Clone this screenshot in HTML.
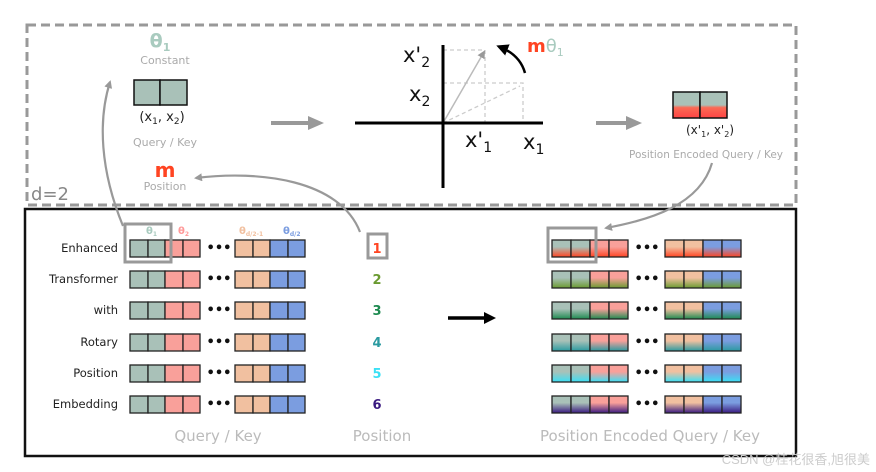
<!DOCTYPE html>
<html><head><meta charset="utf-8"><style>body{margin:0;background:#fff}svg{display:block}text{font-family:"DejaVu Sans","Liberation Sans",sans-serif}</style></head><body>
<svg width="876" height="472" viewBox="0 0 876 472" xmlns="http://www.w3.org/2000/svg">
<defs>
<marker id="ga" markerWidth="8" markerHeight="8" refX="6" refY="4" orient="auto" markerUnits="userSpaceOnUse"><path d="M0,0L8,4L0,8z" fill="#999"/></marker>
<marker id="gb" markerWidth="16" markerHeight="14" refX="10" refY="7" orient="auto" markerUnits="userSpaceOnUse"><path d="M0,0L16,7L0,14z" fill="#999"/></marker>
<marker id="ba" markerWidth="12" markerHeight="12" refX="8" refY="6" orient="auto" markerUnits="userSpaceOnUse"><path d="M0,0L12,6L0,12z" fill="#000"/></marker>
<linearGradient id="gr" x1="0" y1="0" x2="0" y2="1"><stop offset="0.5" stop-color="#a9c1b8"/><stop offset="0.6" stop-color="#fa6a55"/><stop offset="1" stop-color="#f44"/></linearGradient>
</defs>
<rect x="27" y="25" width="769" height="180" fill="none" stroke="#999" stroke-width="3" stroke-dasharray="9,5"/>
<rect x="25" y="209" width="771" height="247" fill="none" stroke="#111" stroke-width="2.5"/>
<text x="50" y="200" font-size="18" fill="#888" text-anchor="middle">d=2</text>
<text x="160" y="47" font-size="19" font-weight="bold" fill="#a9cbbf" text-anchor="middle">θ<tspan font-size="11" dy="4">1</tspan></text>
<text x="165" y="64" font-size="11" fill="#aaa" text-anchor="middle">Constant</text>
<rect x="134" y="80" width="26" height="25" fill="#a9c1b8" stroke="#111" stroke-width="1.5"/><rect x="160" y="80" width="27" height="25" fill="#a9c1b8" stroke="#111" stroke-width="1.5"/>
<text x="162" y="121" font-size="13" fill="#222" text-anchor="middle">(x<tspan font-size="9" dy="3">1</tspan><tspan dy="-3">, x</tspan><tspan font-size="9" dy="3">2</tspan><tspan dy="-3">)</tspan></text>
<text x="165" y="146" font-size="11" fill="#aaa" text-anchor="middle">Query / Key</text>
<text x="165" y="177" font-size="20" font-weight="bold" fill="#f42" text-anchor="middle">m</text>
<text x="165" y="190" font-size="11" fill="#aaa" text-anchor="middle">Position</text>
<line x1="271" y1="123" x2="318" y2="123" stroke="#999" stroke-width="4" marker-end="url(#gb)"/>
<line x1="596" y1="123" x2="636" y2="123" stroke="#999" stroke-width="4" marker-end="url(#gb)"/>
<g stroke="#ccc" stroke-width="1.3" stroke-dasharray="4,3" fill="none"><path d="M443,50H485V123M443,83H523V123M443,123L520,86"/></g>
<line x1="443" y1="123" x2="484" y2="52" stroke="#bbb" stroke-width="1.5" marker-end="url(#ga)"/>
<line x1="355" y1="123" x2="543" y2="123" stroke="#000" stroke-width="3"/>
<line x1="443" y1="45" x2="443" y2="188" stroke="#000" stroke-width="3"/>
<path d="M525,73 Q520,55 500,47" fill="none" stroke="#000" stroke-width="2.5" marker-end="url(#ba)"/>
<text x="527" y="52" font-size="18" font-weight="bold" fill="#f42">m<tspan fill="#a9cbbf" font-weight="normal">θ<tspan font-size="11" dy="4">1</tspan></tspan></text>
<g font-size="21" fill="#111"><text x="403" y="62">x'<tspan font-size="14" dy="5">2</tspan></text><text x="409" y="101">x<tspan font-size="14" dy="5">2</tspan></text><text x="465" y="147">x'<tspan font-size="14" dy="5">1</tspan></text><text x="523" y="149">x<tspan font-size="14" dy="5">1</tspan></text></g>
<rect x="673" y="92" width="27" height="26" fill="url(#gr)" stroke="#111" stroke-width="1.5"/><rect x="700" y="92" width="27" height="26" fill="url(#gr)" stroke="#111" stroke-width="1.5"/>
<text x="710" y="134" font-size="12" fill="#222" text-anchor="middle">(x'<tspan font-size="8" dy="3">1</tspan><tspan dy="-3">, x'</tspan><tspan font-size="8" dy="3">2</tspan><tspan dy="-3">)</tspan></text>
<text x="706" y="158" font-size="10.5" fill="#aaa" text-anchor="middle">Position Encoded Query / Key</text>
<path d="M123,226 C100,170 98,120 110,82" fill="none" stroke="#999" stroke-width="2.2" marker-end="url(#ga)"/>
<path d="M360,232 C340,180 260,170 196,178" fill="none" stroke="#999" stroke-width="2.2" marker-end="url(#ga)"/>
<path d="M712,163 C700,205 650,220 606,228" fill="none" stroke="#999" stroke-width="2.2" marker-end="url(#ga)"/>
<g font-size="10" font-weight="bold"><text x="146" y="234" fill="#a9cbbf">θ<tspan font-size="6" dy="2">1</tspan></text><text x="178" y="234" fill="#f99">θ<tspan font-size="6" dy="2">2</tspan></text><text x="239" y="234" fill="#f1c0a0">θ<tspan font-size="6" dy="2">d/2-1</tspan></text><text x="283" y="234" fill="#7b9de0">θ<tspan font-size="6" dy="2">d/2</tspan></text></g>
<g id="rows"></g>
<rect x="125" y="224" width="46" height="38" fill="none" stroke="#999" stroke-width="3"/>
<rect x="548" y="228" width="48" height="34" fill="none" stroke="#999" stroke-width="3"/>
<rect x="368" y="234" width="19" height="24" fill="none" stroke="#999" stroke-width="3"/>
<line x1="448" y1="318" x2="492" y2="318" stroke="#000" stroke-width="3.5" marker-end="url(#ba)"/>
<text x="218" y="441" font-size="15" fill="#bbb" text-anchor="middle">Query / Key</text>
<text x="382" y="441" font-size="15" fill="#bbb" text-anchor="middle">Position</text>
<text x="650" y="441" font-size="15" fill="#bbb" text-anchor="middle">Position Encoded Query / Key</text>
<text x="870" y="464" font-size="13" fill="#ccc" text-anchor="end" style="font-family:'Liberation Sans','Noto Sans CJK SC',sans-serif">CSDN @桂花很香,旭很美</text>
</svg>
<script>
var labels=["Enhanced","Transformer","with","Rotary","Position","Embedding"];
var pc=["#f42","#6a9a30","#1e8a50","#2a9aa0","#3be0f5","#3a1a80"];
var ys=[240,271,302,334,365,396];
var cols=["#a9c1b8","#a9c1b8","#f9a09a","#f9a09a","#f1c0a0","#f1c0a0","#7b9de0","#7b9de0"];
var lx=[130,148,165,183,235,253,270,288],rx=[552,571,590,609,665,684,703,722];
var s="";
for(var i=0;i<6;i++){var y=ys[i];
s+='<text x="118" y="'+(y+12)+'" font-size="11.5" fill="#222" text-anchor="end">'+labels[i]+'</text>';
s+='<text x="377" y="'+(y+13)+'" font-size="13" font-weight="bold" fill="'+pc[i]+'" text-anchor="middle">'+(i+1)+'</text>';
s+='<linearGradient id="g'+i+'" x1="0" y1="0" x2="0" y2="1"><stop offset="0.4" stop-color="'+pc[i]+'" stop-opacity="0"/><stop offset="1" stop-color="'+pc[i]+'" stop-opacity="1"/></linearGradient>';
for(var j=0;j<8;j++){
s+='<rect x="'+lx[j]+'" y="'+y+'" width="'+(j%2?17:18)+'" height="17" fill="'+cols[j]+'" stroke="#222" stroke-width="1.3"/>';
s+='<rect x="'+rx[j]+'" y="'+y+'" width="19" height="17" fill="'+cols[j]+'"/><rect x="'+rx[j]+'" y="'+y+'" width="19" height="17" fill="url(#g'+i+')" stroke="#222" stroke-width="1.3"/>';}
s+='<text x="219" y="'+(y+12)+'" font-size="13" font-weight="bold" fill="#111" text-anchor="middle">•••</text>';
s+='<text x="647" y="'+(y+12)+'" font-size="13" font-weight="bold" fill="#111" text-anchor="middle">•••</text>';}
document.getElementById("rows").innerHTML=s;
</script>
</body></html>
